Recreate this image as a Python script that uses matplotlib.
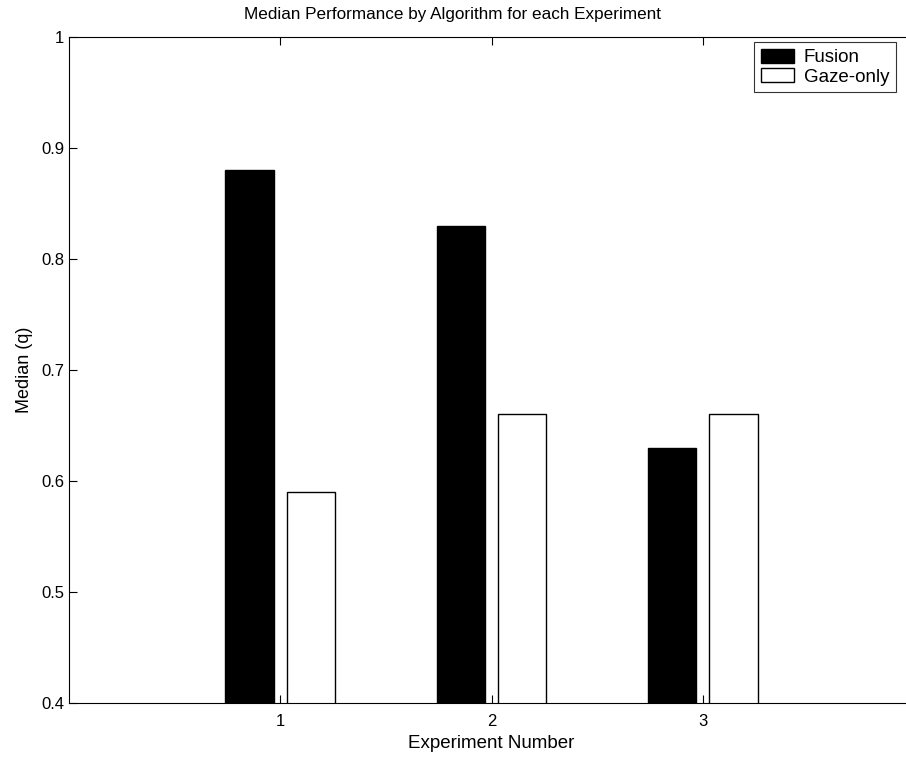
import numpy as np
import matplotlib
matplotlib.use("Agg")
from matplotlib import pyplot as plt

experiments = [1, 2, 3]
fusion = [0.88, 0.83, 0.63]
gaze_only = [0.59, 0.66, 0.66]
yticks = [0.4, 0.5, 0.6, 0.7, 0.8, 0.9, 1.0]
ytick_labels = ["0.4", "0.5", "0.6", "0.7", "0.8", "0.9", "1"]

plt.rcParams['font.family'] = ['Liberation Sans', 'DejaVu Sans']

fig = plt.figure(figsize=(9.06, 7.59), dpi=100)
# axes run a little past the right edge of the figure, like the scanned original
ax = fig.add_axes([69/906, 56/759, 845/906, 666/759])

x = np.array(experiments)
w = 0.23
ax.bar(x - 0.145, fusion, w, color='black', edgecolor='black', linewidth=1, label='Fusion')
ax.bar(x + 0.145, gaze_only, w, color='white', edgecolor='black', linewidth=1, label='Gaze-only')

ax.set_xlim(0, 4)
ax.set_ylim(0.4, 1.0)
ax.set_xticks(experiments)
ax.set_yticks(yticks)
ax.set_yticklabels(ytick_labels)
ax.tick_params(direction='in', length=6, width=0.8, labelsize=12, top=True, right=True)
ax.tick_params(axis='x', pad=8)

ax.set_xlabel("Experiment Number", fontsize=13.5, labelpad=4)
ax.set_ylabel("Median (q)", fontsize=13, labelpad=6)
fig.text(0.5, 1 - 14/759, "Median Performance by Algorithm for each Experiment",
         ha='center', va='center', fontsize=12.3)

leg = ax.legend(loc='upper left', bbox_to_anchor=((754-69)/845, (703-42)/666),
                fontsize=13.5, frameon=True, fancybox=False, edgecolor='black',
                handlelength=1.8, handleheight=0.8, handletextpad=0.5,
                labelspacing=0.1, borderpad=0.35, borderaxespad=0)
leg.get_frame().set_linewidth(0.8)

fig.savefig("out.png", dpi=100)
